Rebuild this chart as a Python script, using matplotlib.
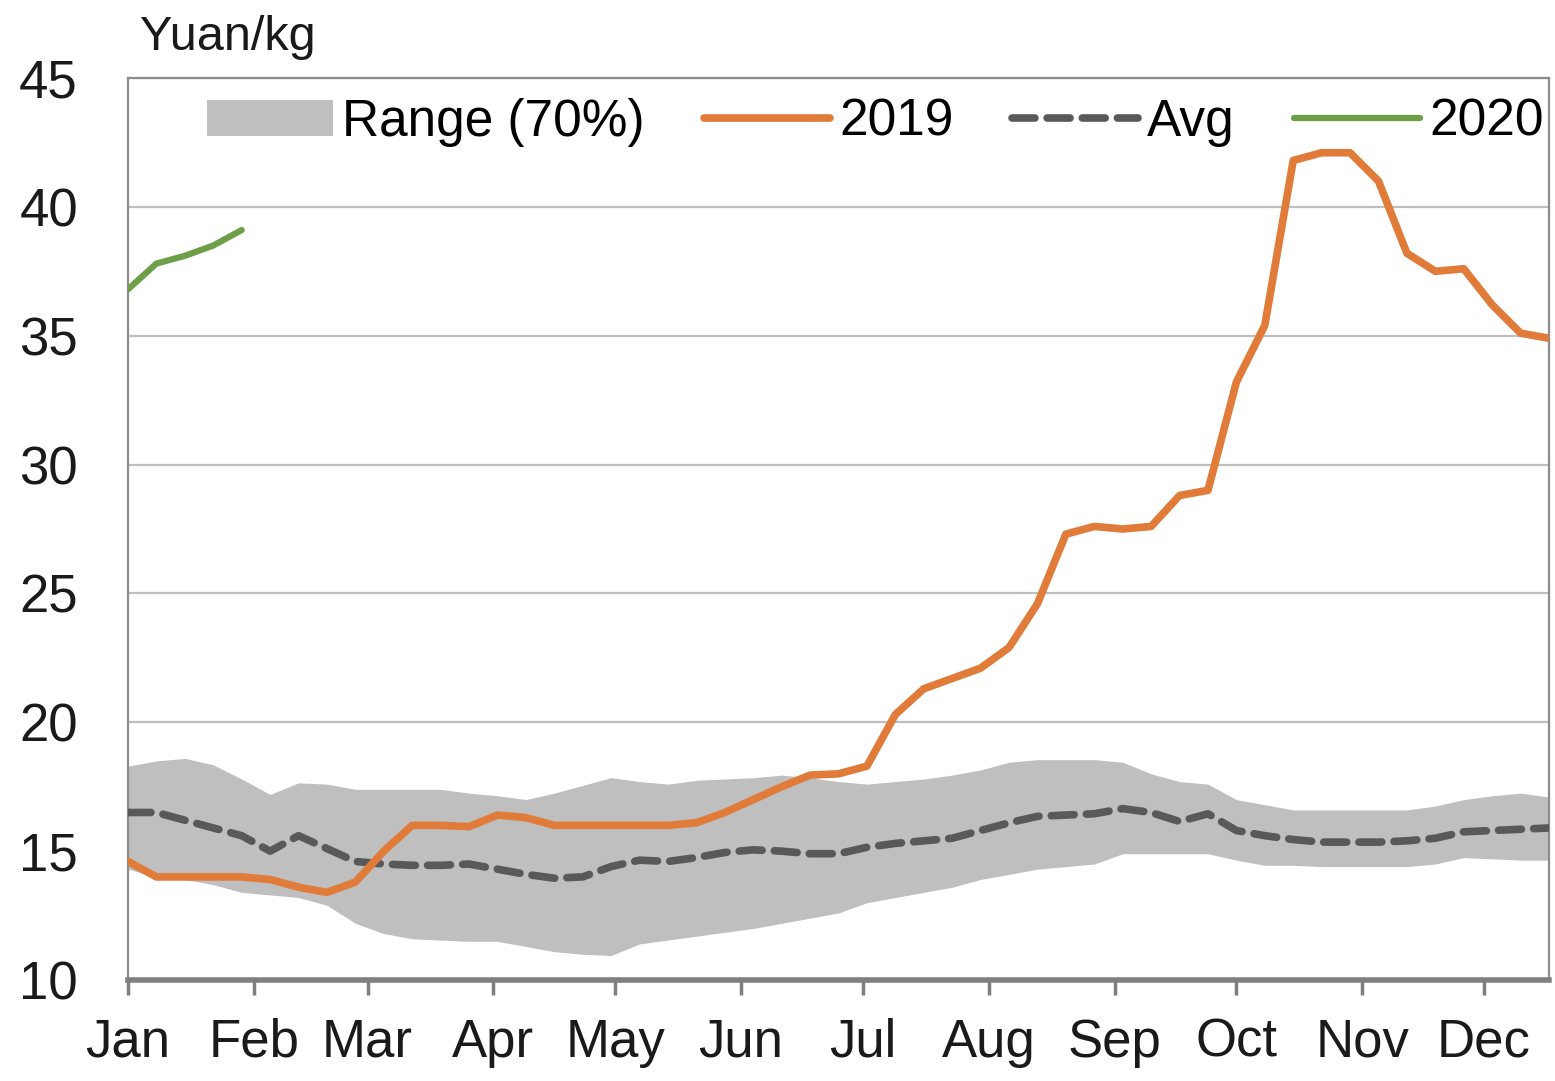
import matplotlib
matplotlib.use("Agg")
import matplotlib.pyplot as plt
import numpy as np

plt.rcParams['font.family'] = ['Liberation Sans', 'DejaVu Sans']

# ---- data (weekly, day-of-year) ----
days = [7 * k for k in range(51)]

price_2019 = [14.6, 14.0, 14.0, 14.0, 14.0, 13.9, 13.6, 13.4, 13.8, 15.0,
              16.0, 16.0, 15.95, 16.4, 16.3, 16.0, 16.0, 16.0, 16.0, 16.0,
              16.1, 16.5, 17.0, 17.5, 17.95, 18.0, 18.3, 20.3, 21.3, 21.7,
              22.1, 22.9, 24.6, 27.3, 27.6, 27.5, 27.6, 28.8, 29.0, 33.2,
              35.4, 41.8, 42.1, 42.1, 41.0, 38.2, 37.5, 37.6, 36.2, 35.1, 34.9]

price_2020 = [36.8, 37.8, 38.1, 38.5, 39.1]

avg = [16.5, 16.5, 16.2, 15.9, 15.6, 15.0, 15.6, 15.1, 14.6, 14.5,
       14.45, 14.45, 14.5, 14.3, 14.1, 13.95, 14.0, 14.4, 14.65, 14.6,
       14.75, 14.95, 15.05, 15.0, 14.9, 14.9, 15.15, 15.3, 15.4, 15.5,
       15.8, 16.1, 16.35, 16.4, 16.45, 16.65, 16.5, 16.15, 16.45, 15.8,
       15.6, 15.45, 15.35, 15.35, 15.35, 15.4, 15.5, 15.75, 15.8, 15.85, 15.9]

range_upper = [18.3, 18.5, 18.6, 18.35, 17.8, 17.2, 17.65, 17.6, 17.4, 17.4,
               17.4, 17.4, 17.25, 17.15, 17.0, 17.25, 17.55, 17.85, 17.7, 17.6,
               17.75, 17.8, 17.85, 17.95, 17.85, 17.7, 17.6, 17.7, 17.8, 17.95,
               18.15, 18.45, 18.55, 18.55, 18.55, 18.45, 18.0, 17.7, 17.6, 17.0,
               16.8, 16.6, 16.6, 16.6, 16.6, 16.6, 16.75, 17.0, 17.15, 17.25, 17.1]

range_lower = [14.3, 14.0, 13.9, 13.7, 13.4, 13.3, 13.2, 12.9, 12.2, 11.8,
               11.6, 11.55, 11.5, 11.5, 11.3, 11.1, 11.0, 10.95, 11.4, 11.55,
               11.7, 11.85, 12.0, 12.2, 12.4, 12.6, 13.0, 13.2, 13.4, 13.6,
               13.9, 14.1, 14.3, 14.4, 14.5, 14.9, 14.9, 14.9, 14.9, 14.65,
               14.45, 14.45, 14.4, 14.4, 14.4, 14.4, 14.5, 14.75, 14.7, 14.65, 14.65]

month_labels = ['Jan', 'Feb', 'Mar', 'Apr', 'May', 'Jun',
                'Jul', 'Aug', 'Sep', 'Oct', 'Nov', 'Dec']
month_starts = [0, 31, 59, 90, 120, 151, 181, 212, 243, 273, 304, 334]
y_ticks = [10, 15, 20, 25, 30, 35, 40, 45]

# ---- colours ----
c_range = '#BFBFBF'
c_2019 = '#E07B39'
c_avg = '#595959'
c_2020 = '#6E9E48'

fig = plt.figure(figsize=(15.55, 10.81), dpi=100)
ax = fig.add_axes([128 / 1555, 1 - 980 / 1081, (1549 - 128) / 1555, (980 - 78) / 1081])

ax.fill_between(days, range_lower, range_upper, color=c_range, linewidth=0,
                label='Range (70%)', zorder=2)
ax.plot(days, price_2019, color=c_2019, lw=5.5, solid_joinstyle='round',
        solid_capstyle='round', label='2019', zorder=4)
ax.plot(days, avg, color=c_avg, lw=5.5, dashes=(3.0, 1.6), dash_capstyle='round',
        dash_joinstyle='round', label='Avg', zorder=3)
ax.plot(days[:len(price_2020)], price_2020, color=c_2020, lw=4.5,
        solid_joinstyle='round', solid_capstyle='round', label='2020', zorder=4)

ax.set_xlim(0, 350)
ax.set_ylim(10, 45)
ax.set_yticks(y_ticks)
ax.set_xticks(month_starts)
ax.set_xticklabels(month_labels)

ax.yaxis.grid(True, color='#BFBFBF', lw=1.6)
ax.set_axisbelow(True)

for s in ['top', 'right', 'left']:
    ax.spines[s].set_color('#8C8C8C')
    ax.spines[s].set_linewidth(1.6)
ax.spines['bottom'].set_color('#7F7F7F')
ax.spines['bottom'].set_linewidth(4)

ax.tick_params(axis='y', length=0, pad=36, labelsize=38, labelcolor='#1a1a1a')
ax.tick_params(axis='x', length=11, width=2.5, color='#7F7F7F', direction='out',
               pad=16, labelsize=38, labelcolor='#1a1a1a')

fig.text(140 / 1555, 1 - 38 / 1081, 'Yuan/kg', fontsize=35, va='center', ha='left',
         color='#1a1a1a')

leg = ax.legend(loc='center left', bbox_to_anchor=((207 - 128) / 1421, (980 - 122) / 902),
                ncol=4, frameon=False, fontsize=37, borderpad=0, borderaxespad=0,
                handlelength=2.45, handletextpad=0.18, columnspacing=1.15)

fig.savefig('out.png', dpi=100, facecolor='white')
